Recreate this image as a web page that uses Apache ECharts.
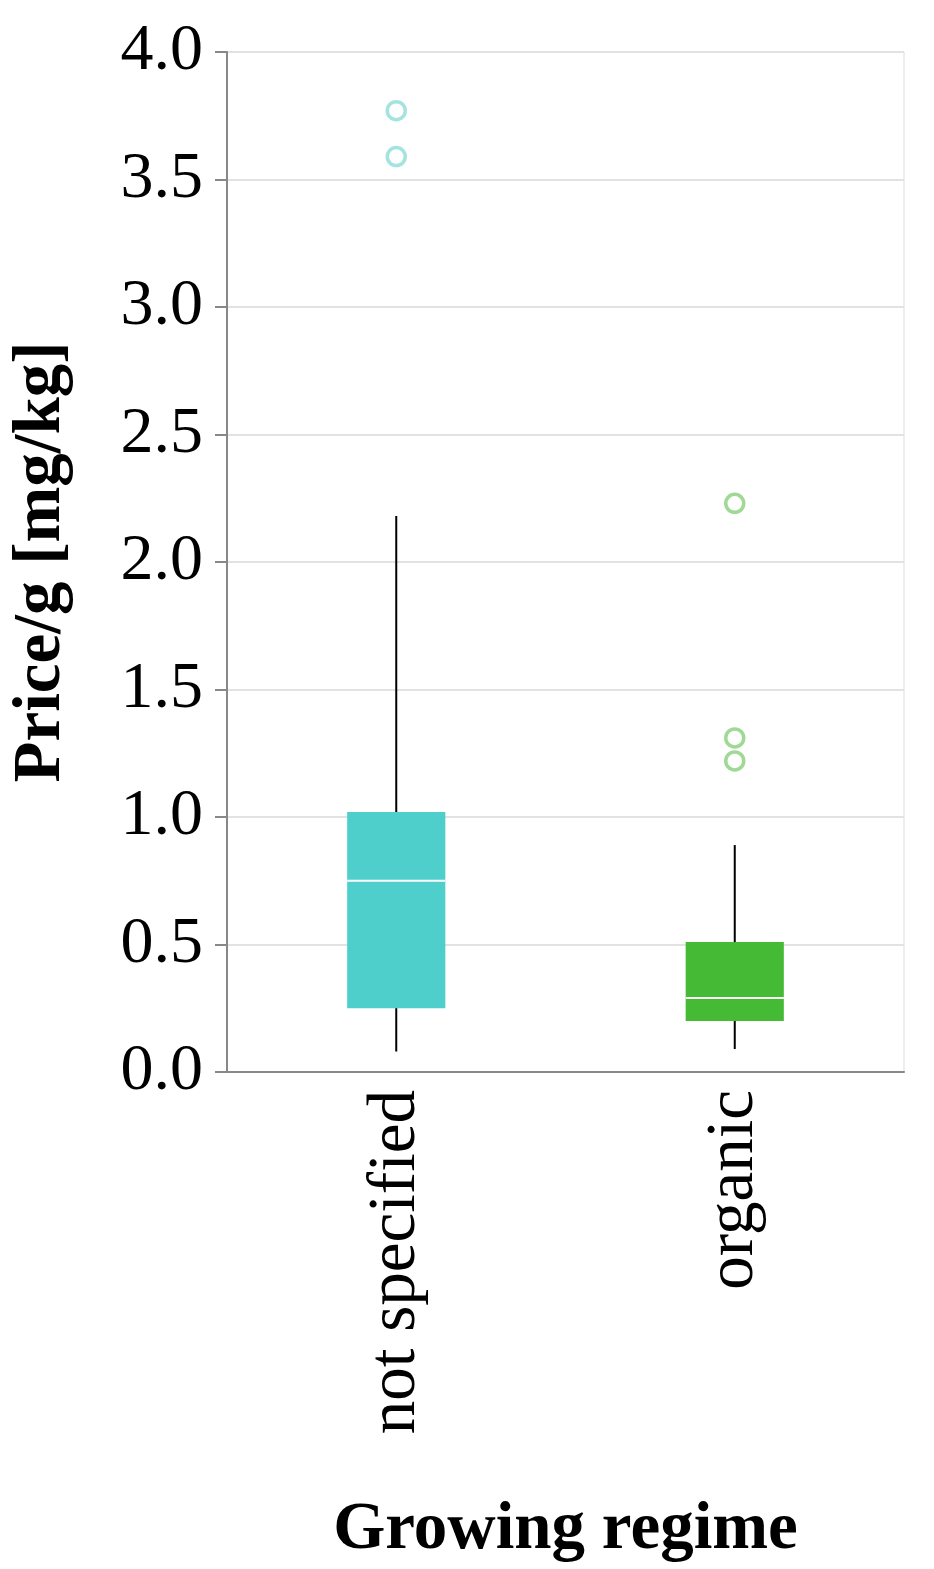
<!DOCTYPE html>
<html><head><meta charset="utf-8">
<script src="https://cdn.jsdelivr.net/npm/echarts@6/dist/echarts.min.js"></script>
<style>html,body{margin:0;background:#fff}#c{width:934px;height:1569px}</style>
</head><body><div id="c"></div>
<script>
// data
var categories = ['not specified', 'organic'];
// [low whisker, Q1, median, Q3, high whisker]
var boxStats = [
  [0.08, 0.25, 0.75, 1.02, 2.18],
  [0.09, 0.20, 0.29, 0.51, 0.89]
];
var outliers = [[0, 3.77], [0, 3.59], [1, 2.23], [1, 1.31], [1, 1.22]];
var boxColors = ['#4ecfcb', '#45bb35'];
var dotColors = ['#8fdcd9', '#88cf7c'];

var chart = echarts.init(document.getElementById('c'));
var serif = 'Liberation Serif';

function renderBox(params, api) {
  var i = api.value(0);
  var lo = api.coord([i, api.value(1)]), q1 = api.coord([i, api.value(2)]);
  var md = api.coord([i, api.value(3)]), q3 = api.coord([i, api.value(4)]);
  var hi = api.coord([i, api.value(5)]);
  var w = api.size([1, 0])[0] * 0.29;
  var x = lo[0];
  return {type: 'group', children: [
    {type: 'line', shape: {x1: x, y1: lo[1], x2: x, y2: hi[1]}, style: {stroke: '#000', lineWidth: 2}},
    {type: 'rect', shape: {x: x - w / 2, y: q3[1], width: w, height: q1[1] - q3[1]}, style: {fill: boxColors[i]}},
    {type: 'line', shape: {x1: x - w / 2, y1: md[1], x2: x + w / 2, y2: md[1]}, style: {stroke: '#fff', lineWidth: 2}}
  ]};
}

chart.setOption({
  animation: false,
  grid: {left: 218, top: 52, width: 686, height: 1028, show: true, borderColor: '#ddd', borderWidth: 1},
  xAxis: {
    type: 'category', data: categories, boundaryGap: true,
    name: 'Growing regime', nameLocation: 'middle', nameGap: 425,
    nameTextStyle: {fontFamily: serif, fontWeight: 'bold', fontSize: 67, color: '#000', padding: [0, 0, 0, 0]},
    axisLine: {lineStyle: {color: '#888', width: 2}},
    axisTick: {alignWithLabel: true, length: 12, lineStyle: {color: '#888', width: 2}},
    axisLabel: {rotate: 90, fontFamily: serif, fontSize: 67, color: '#000', margin: 18}
  },
  yAxis: {
    type: 'value', min: 0, max: 4, interval: 0.5,
    name: 'Price/g [mg/kg]', nameLocation: 'middle', nameGap: 152,
    nameTextStyle: {fontFamily: serif, fontWeight: 'bold', fontSize: 67, color: '#000'},
    axisLine: {show: true, lineStyle: {color: '#888', width: 2}},
    axisTick: {show: true, length: 12, lineStyle: {color: '#888', width: 2}},
    axisLabel: {fontFamily: serif, fontSize: 66, color: '#000', margin: 24, formatter: function (v) { return v.toFixed(1); }},
    splitLine: {lineStyle: {color: '#e2e2e2', width: 2}}
  },
  series: [
    {type: 'custom', renderItem: renderBox,
     data: boxStats.map(function (s, i) { return [i].concat(s); })},
    {type: 'scatter', symbol: 'circle', symbolSize: 18,
     data: outliers.map(function (o) {
       return {value: o, itemStyle: {color: 'transparent', borderColor: dotColors[o[0]], borderWidth: 3.5}};
     })}
  ]
});
</script></body></html>
